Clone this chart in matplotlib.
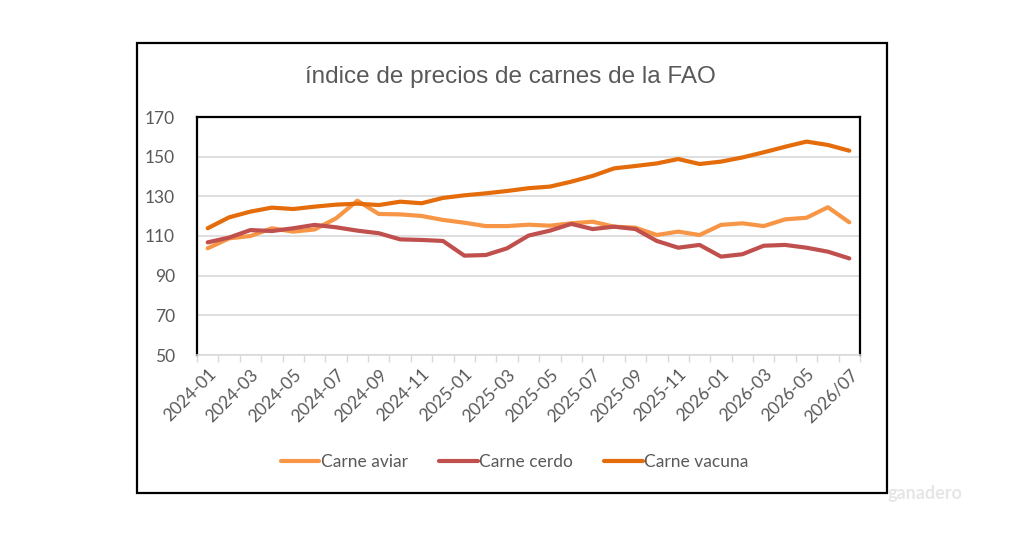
"""Índice de precios de carnes de la FAO - recreated line chart."""

import matplotlib
matplotlib.use("Agg")
import matplotlib.pyplot as plt
from matplotlib.patches import Rectangle

months = ["2024-01", "2024-02", "2024-03", "2024-04", "2024-05", "2024-06", "2024-07",
          "2024-08", "2024-09", "2024-10", "2024-11", "2024-12", "2025-01", "2025-02",
          "2025-03", "2025-04", "2025-05", "2025-06", "2025-07", "2025-08", "2025-09",
          "2025-10", "2025-11", "2025-12", "2026-01", "2026-02", "2026-03", "2026-04",
          "2026-05", "2026-06", "2026/07"]

aviar = [103.8, 108.8, 110.0, 113.9, 112.2, 113.3, 118.9, 127.8, 121.1, 120.9, 120.1,
         118.1, 116.7, 115.0, 115.0, 115.7, 115.2, 116.4, 117.2, 114.7, 114.2, 110.5,
         112.2, 110.5, 115.6, 116.4, 115.0, 118.4, 119.2, 124.5, 116.9]
cerdo = [106.8, 109.2, 113.0, 112.5, 113.9, 115.6, 114.4, 112.7, 111.4, 108.3, 108.0,
         107.5, 100.1, 100.4, 103.8, 110.2, 112.7, 116.1, 113.5, 114.7, 113.5, 107.5,
         104.1, 105.5, 99.6, 100.8, 105.1, 105.5, 104.1, 102.1, 98.7]
vacuna = [113.9, 119.4, 122.3, 124.3, 123.6, 124.8, 125.8, 126.3, 125.6, 127.3, 126.5,
          129.2, 130.5, 131.5, 132.7, 134.1, 134.9, 137.4, 140.3, 144.1, 145.3, 146.6,
          148.8, 146.3, 147.5, 149.6, 152.2, 155.0, 157.6, 155.9, 153.0]

GREY = "#595959"
plt.rcParams["font.family"] = ["Lato", "DejaVu Sans"]

fig = plt.figure(figsize=(10.24, 5.35), dpi=100)
# outer chart frame
fig.patches.append(Rectangle((137 / 1024, 1 - 493 / 535), 750 / 1024, 450 / 535,
                             transform=fig.transFigure, fill=False,
                             edgecolor="black", linewidth=1.6))

ax = fig.add_axes([197 / 1024, 1 - 355 / 535, 663 / 1024, 238 / 535])
x = range(len(months))
ax.plot(x, aviar, color="#F79646", lw=3, label="Carne aviar", solid_capstyle="round")
ax.plot(x, cerdo, color="#C0504D", lw=3, label="Carne cerdo", solid_capstyle="round")
ax.plot(x, vacuna, color="#E46C0A", lw=3, label="Carne vacuna", solid_capstyle="round")

ax.set_xlim(-0.5, len(months) - 0.5)
ax.set_ylim(50, 170)
ax.set_yticks(range(50, 171, 20))
ax.grid(axis="y", color="#d9d9d9", lw=1.2)
ax.set_axisbelow(True)

# category boundary ticks, labels every second month
ax.set_xticks([i - 0.5 for i in range(len(months) + 1)])
ax.set_xticklabels([])
ax.tick_params(axis="x", length=5, color="#d9d9d9", width=1)
ax.set_xticks(list(range(0, len(months), 2)), minor=True)
ax.set_xticklabels([months[i] for i in range(0, len(months), 2)], minor=True,
                   rotation=45, ha="right", rotation_mode="anchor")
ax.tick_params(axis="x", which="minor", length=0, labelsize=12.5, labelcolor=GREY, pad=8)
ax.tick_params(axis="y", length=0, labelsize=12.5, labelcolor=GREY, pad=16)

for s in ("left", "top", "right"):
    ax.spines[s].set_color("black")
    ax.spines[s].set_linewidth(1.6)
ax.spines["bottom"].set_color("#d9d9d9")
ax.spines["bottom"].set_linewidth(1.2)

fig.text(510 / 1024, 1 - 77 / 535, "índice de precios de carnes de la FAO",
         ha="center", va="center", fontsize=17.5, color=GREY, family="Liberation Sans")

fig.legend(loc="center", bbox_to_anchor=(515 / 1024, 1 - 462 / 535), ncol=3,
           frameon=False, fontsize=12.5, labelcolor=GREY, handlelength=2.2,
           handletextpad=0.1, columnspacing=1.8)

fig.text(925 / 1024, 1 - 494 / 535, "ganadero", ha="center", va="center",
         fontsize=13, fontweight="bold", color="#e6e6e6")

fig.savefig("out.png", dpi=100)
